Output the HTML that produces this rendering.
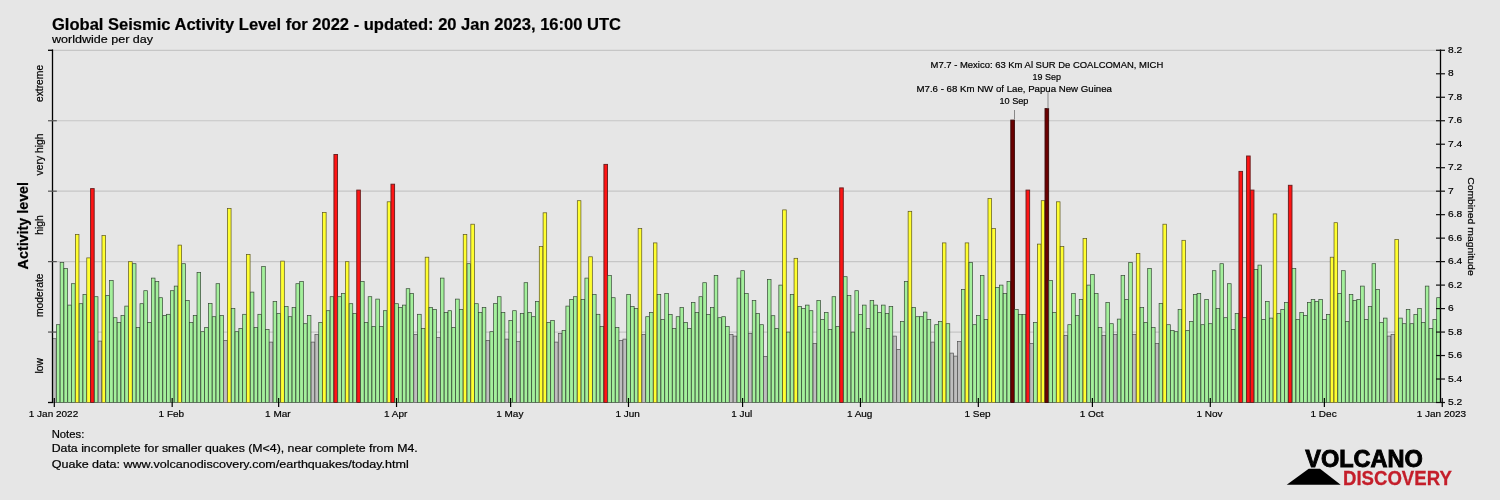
<!DOCTYPE html>
<html><head><meta charset="utf-8"><style>
html,body{margin:0;padding:0;width:1500px;height:500px;overflow:hidden;background:#e6e6e6}
svg text{font-family:"Liberation Sans",sans-serif;stroke:#000;stroke-width:0.2px}
</style></head><body>
<svg width="1500" height="500" viewBox="0 0 1500 500" style="position:absolute;left:0;top:0;will-change:transform">
<rect x="0" y="0" width="1500" height="500" fill="#e6e6e6"/>
<line x1="52.5" x2="1441" y1="50.30" y2="50.30" stroke="#c6c6c6" stroke-width="1.2"/>
<line x1="52.5" x2="1441" y1="120.74" y2="120.74" stroke="#c6c6c6" stroke-width="1.2"/>
<line x1="52.5" x2="1441" y1="191.18" y2="191.18" stroke="#c6c6c6" stroke-width="1.2"/>
<line x1="52.5" x2="1441" y1="261.62" y2="261.62" stroke="#c6c6c6" stroke-width="1.2"/>
<line x1="52.5" x2="1441" y1="332.06" y2="332.06" stroke="#c6c6c6" stroke-width="1.2"/>
<rect x="52.55" y="338.70" width="3.60" height="63.80" fill="#bebebe" stroke="#505050" stroke-width="0.7"/>
<rect x="56.35" y="324.70" width="3.60" height="77.80" fill="#a4f09c" stroke="#354835" stroke-width="0.7"/>
<rect x="60.16" y="262.50" width="3.60" height="140.00" fill="#a4f09c" stroke="#354835" stroke-width="0.7"/>
<rect x="63.96" y="268.50" width="3.60" height="134.00" fill="#a4f09c" stroke="#354835" stroke-width="0.7"/>
<rect x="67.76" y="305.10" width="3.60" height="97.40" fill="#a4f09c" stroke="#354835" stroke-width="0.7"/>
<rect x="71.56" y="283.70" width="3.60" height="118.80" fill="#a4f09c" stroke="#354835" stroke-width="0.7"/>
<rect x="75.37" y="234.40" width="3.60" height="168.10" fill="#ffff30" stroke="#5a5420" stroke-width="0.7"/>
<rect x="79.17" y="303.70" width="3.60" height="98.80" fill="#a4f09c" stroke="#354835" stroke-width="0.7"/>
<rect x="82.97" y="294.50" width="3.60" height="108.00" fill="#a4f09c" stroke="#354835" stroke-width="0.7"/>
<rect x="86.77" y="257.90" width="3.60" height="144.60" fill="#ffff30" stroke="#5a5420" stroke-width="0.7"/>
<rect x="90.58" y="188.60" width="3.60" height="213.90" fill="#ff1414" stroke="#6a2020" stroke-width="0.95"/>
<rect x="94.38" y="296.70" width="3.60" height="105.80" fill="#a4f09c" stroke="#354835" stroke-width="0.7"/>
<rect x="98.18" y="341.10" width="3.60" height="61.40" fill="#bebebe" stroke="#505050" stroke-width="0.7"/>
<rect x="101.98" y="235.50" width="3.60" height="167.00" fill="#ffff30" stroke="#5a5420" stroke-width="0.7"/>
<rect x="105.79" y="295.50" width="3.60" height="107.00" fill="#a4f09c" stroke="#354835" stroke-width="0.7"/>
<rect x="109.59" y="280.50" width="3.60" height="122.00" fill="#a4f09c" stroke="#354835" stroke-width="0.7"/>
<rect x="113.39" y="317.70" width="3.60" height="84.80" fill="#a4f09c" stroke="#354835" stroke-width="0.7"/>
<rect x="117.19" y="322.50" width="3.60" height="80.00" fill="#a4f09c" stroke="#354835" stroke-width="0.7"/>
<rect x="121.00" y="315.50" width="3.60" height="87.00" fill="#a4f09c" stroke="#354835" stroke-width="0.7"/>
<rect x="124.80" y="306.10" width="3.60" height="96.40" fill="#a4f09c" stroke="#354835" stroke-width="0.7"/>
<rect x="128.60" y="261.70" width="3.60" height="140.80" fill="#ffff30" stroke="#5a5420" stroke-width="0.7"/>
<rect x="132.40" y="263.70" width="3.60" height="138.80" fill="#a4f09c" stroke="#354835" stroke-width="0.7"/>
<rect x="136.21" y="327.50" width="3.60" height="75.00" fill="#a4f09c" stroke="#354835" stroke-width="0.7"/>
<rect x="140.01" y="303.70" width="3.60" height="98.80" fill="#a4f09c" stroke="#354835" stroke-width="0.7"/>
<rect x="143.81" y="290.70" width="3.60" height="111.80" fill="#a4f09c" stroke="#354835" stroke-width="0.7"/>
<rect x="147.62" y="322.50" width="3.60" height="80.00" fill="#a4f09c" stroke="#354835" stroke-width="0.7"/>
<rect x="151.42" y="278.10" width="3.60" height="124.40" fill="#a4f09c" stroke="#354835" stroke-width="0.7"/>
<rect x="155.22" y="281.50" width="3.60" height="121.00" fill="#a4f09c" stroke="#354835" stroke-width="0.7"/>
<rect x="159.02" y="297.70" width="3.60" height="104.80" fill="#a4f09c" stroke="#354835" stroke-width="0.7"/>
<rect x="162.83" y="315.50" width="3.60" height="87.00" fill="#a4f09c" stroke="#354835" stroke-width="0.7"/>
<rect x="166.63" y="314.30" width="3.60" height="88.20" fill="#a4f09c" stroke="#354835" stroke-width="0.7"/>
<rect x="170.43" y="290.70" width="3.60" height="111.80" fill="#a4f09c" stroke="#354835" stroke-width="0.7"/>
<rect x="174.23" y="286.10" width="3.60" height="116.40" fill="#a4f09c" stroke="#354835" stroke-width="0.7"/>
<rect x="178.04" y="245.10" width="3.60" height="157.40" fill="#ffff30" stroke="#5a5420" stroke-width="0.7"/>
<rect x="181.84" y="263.70" width="3.60" height="138.80" fill="#a4f09c" stroke="#354835" stroke-width="0.7"/>
<rect x="185.64" y="300.50" width="3.60" height="102.00" fill="#a4f09c" stroke="#354835" stroke-width="0.7"/>
<rect x="189.44" y="322.50" width="3.60" height="80.00" fill="#a4f09c" stroke="#354835" stroke-width="0.7"/>
<rect x="193.25" y="315.50" width="3.60" height="87.00" fill="#a4f09c" stroke="#354835" stroke-width="0.7"/>
<rect x="197.05" y="272.50" width="3.60" height="130.00" fill="#a4f09c" stroke="#354835" stroke-width="0.7"/>
<rect x="200.85" y="331.70" width="3.60" height="70.80" fill="#a4f09c" stroke="#354835" stroke-width="0.7"/>
<rect x="204.65" y="327.50" width="3.60" height="75.00" fill="#a4f09c" stroke="#354835" stroke-width="0.7"/>
<rect x="208.46" y="303.50" width="3.60" height="99.00" fill="#a4f09c" stroke="#354835" stroke-width="0.7"/>
<rect x="212.26" y="316.70" width="3.60" height="85.80" fill="#a4f09c" stroke="#354835" stroke-width="0.7"/>
<rect x="216.06" y="283.70" width="3.60" height="118.80" fill="#a4f09c" stroke="#354835" stroke-width="0.7"/>
<rect x="219.86" y="315.50" width="3.60" height="87.00" fill="#a4f09c" stroke="#354835" stroke-width="0.7"/>
<rect x="223.67" y="340.50" width="3.60" height="62.00" fill="#bebebe" stroke="#505050" stroke-width="0.7"/>
<rect x="227.47" y="208.40" width="3.60" height="194.10" fill="#ffff30" stroke="#5a5420" stroke-width="0.7"/>
<rect x="231.27" y="308.50" width="3.60" height="94.00" fill="#a4f09c" stroke="#354835" stroke-width="0.7"/>
<rect x="235.07" y="331.70" width="3.60" height="70.80" fill="#a4f09c" stroke="#354835" stroke-width="0.7"/>
<rect x="238.88" y="328.50" width="3.60" height="74.00" fill="#a4f09c" stroke="#354835" stroke-width="0.7"/>
<rect x="242.68" y="314.30" width="3.60" height="88.20" fill="#a4f09c" stroke="#354835" stroke-width="0.7"/>
<rect x="246.48" y="254.40" width="3.60" height="148.10" fill="#ffff30" stroke="#5a5420" stroke-width="0.7"/>
<rect x="250.29" y="292.10" width="3.60" height="110.40" fill="#a4f09c" stroke="#354835" stroke-width="0.7"/>
<rect x="254.09" y="327.50" width="3.60" height="75.00" fill="#a4f09c" stroke="#354835" stroke-width="0.7"/>
<rect x="257.89" y="314.30" width="3.60" height="88.20" fill="#a4f09c" stroke="#354835" stroke-width="0.7"/>
<rect x="261.69" y="266.50" width="3.60" height="136.00" fill="#a4f09c" stroke="#354835" stroke-width="0.7"/>
<rect x="265.50" y="329.50" width="3.60" height="73.00" fill="#a4f09c" stroke="#354835" stroke-width="0.7"/>
<rect x="269.30" y="342.10" width="3.60" height="60.40" fill="#bebebe" stroke="#505050" stroke-width="0.7"/>
<rect x="273.10" y="301.50" width="3.60" height="101.00" fill="#a4f09c" stroke="#354835" stroke-width="0.7"/>
<rect x="276.90" y="313.50" width="3.60" height="89.00" fill="#a4f09c" stroke="#354835" stroke-width="0.7"/>
<rect x="280.71" y="261.10" width="3.60" height="141.40" fill="#ffff30" stroke="#5a5420" stroke-width="0.7"/>
<rect x="284.51" y="306.50" width="3.60" height="96.00" fill="#a4f09c" stroke="#354835" stroke-width="0.7"/>
<rect x="288.31" y="316.70" width="3.60" height="85.80" fill="#a4f09c" stroke="#354835" stroke-width="0.7"/>
<rect x="292.11" y="307.50" width="3.60" height="95.00" fill="#a4f09c" stroke="#354835" stroke-width="0.7"/>
<rect x="295.92" y="283.70" width="3.60" height="118.80" fill="#a4f09c" stroke="#354835" stroke-width="0.7"/>
<rect x="299.72" y="281.50" width="3.60" height="121.00" fill="#a4f09c" stroke="#354835" stroke-width="0.7"/>
<rect x="303.52" y="323.70" width="3.60" height="78.80" fill="#a4f09c" stroke="#354835" stroke-width="0.7"/>
<rect x="307.32" y="315.50" width="3.60" height="87.00" fill="#a4f09c" stroke="#354835" stroke-width="0.7"/>
<rect x="311.13" y="342.10" width="3.60" height="60.40" fill="#bebebe" stroke="#505050" stroke-width="0.7"/>
<rect x="314.93" y="334.50" width="3.60" height="68.00" fill="#bebebe" stroke="#505050" stroke-width="0.7"/>
<rect x="318.73" y="322.50" width="3.60" height="80.00" fill="#a4f09c" stroke="#354835" stroke-width="0.7"/>
<rect x="322.53" y="212.40" width="3.60" height="190.10" fill="#ffff30" stroke="#5a5420" stroke-width="0.7"/>
<rect x="326.34" y="310.70" width="3.60" height="91.80" fill="#a4f09c" stroke="#354835" stroke-width="0.7"/>
<rect x="330.14" y="296.70" width="3.60" height="105.80" fill="#a4f09c" stroke="#354835" stroke-width="0.7"/>
<rect x="333.94" y="154.50" width="3.60" height="248.00" fill="#ff1414" stroke="#6a2020" stroke-width="0.95"/>
<rect x="337.75" y="296.70" width="3.60" height="105.80" fill="#a4f09c" stroke="#354835" stroke-width="0.7"/>
<rect x="341.55" y="293.50" width="3.60" height="109.00" fill="#a4f09c" stroke="#354835" stroke-width="0.7"/>
<rect x="345.35" y="261.70" width="3.60" height="140.80" fill="#ffff30" stroke="#5a5420" stroke-width="0.7"/>
<rect x="349.15" y="303.70" width="3.60" height="98.80" fill="#a4f09c" stroke="#354835" stroke-width="0.7"/>
<rect x="352.96" y="313.50" width="3.60" height="89.00" fill="#a4f09c" stroke="#354835" stroke-width="0.7"/>
<rect x="356.76" y="190.10" width="3.60" height="212.40" fill="#ff1414" stroke="#6a2020" stroke-width="0.95"/>
<rect x="360.56" y="281.50" width="3.60" height="121.00" fill="#a4f09c" stroke="#354835" stroke-width="0.7"/>
<rect x="364.36" y="322.50" width="3.60" height="80.00" fill="#a4f09c" stroke="#354835" stroke-width="0.7"/>
<rect x="368.17" y="296.70" width="3.60" height="105.80" fill="#a4f09c" stroke="#354835" stroke-width="0.7"/>
<rect x="371.97" y="326.50" width="3.60" height="76.00" fill="#a4f09c" stroke="#354835" stroke-width="0.7"/>
<rect x="375.77" y="299.10" width="3.60" height="103.40" fill="#a4f09c" stroke="#354835" stroke-width="0.7"/>
<rect x="379.57" y="326.50" width="3.60" height="76.00" fill="#a4f09c" stroke="#354835" stroke-width="0.7"/>
<rect x="383.38" y="310.70" width="3.60" height="91.80" fill="#a4f09c" stroke="#354835" stroke-width="0.7"/>
<rect x="387.18" y="201.80" width="3.60" height="200.70" fill="#ffff30" stroke="#5a5420" stroke-width="0.7"/>
<rect x="390.98" y="184.20" width="3.60" height="218.30" fill="#ff1414" stroke="#6a2020" stroke-width="0.95"/>
<rect x="394.78" y="303.70" width="3.60" height="98.80" fill="#a4f09c" stroke="#354835" stroke-width="0.7"/>
<rect x="398.59" y="307.50" width="3.60" height="95.00" fill="#a4f09c" stroke="#354835" stroke-width="0.7"/>
<rect x="402.39" y="305.10" width="3.60" height="97.40" fill="#a4f09c" stroke="#354835" stroke-width="0.7"/>
<rect x="406.19" y="288.70" width="3.60" height="113.80" fill="#a4f09c" stroke="#354835" stroke-width="0.7"/>
<rect x="409.99" y="293.50" width="3.60" height="109.00" fill="#a4f09c" stroke="#354835" stroke-width="0.7"/>
<rect x="413.80" y="334.50" width="3.60" height="68.00" fill="#bebebe" stroke="#505050" stroke-width="0.7"/>
<rect x="417.60" y="314.30" width="3.60" height="88.20" fill="#a4f09c" stroke="#354835" stroke-width="0.7"/>
<rect x="421.40" y="328.50" width="3.60" height="74.00" fill="#a4f09c" stroke="#354835" stroke-width="0.7"/>
<rect x="425.20" y="257.20" width="3.60" height="145.30" fill="#ffff30" stroke="#5a5420" stroke-width="0.7"/>
<rect x="429.01" y="307.50" width="3.60" height="95.00" fill="#a4f09c" stroke="#354835" stroke-width="0.7"/>
<rect x="432.81" y="309.50" width="3.60" height="93.00" fill="#a4f09c" stroke="#354835" stroke-width="0.7"/>
<rect x="436.61" y="337.50" width="3.60" height="65.00" fill="#bebebe" stroke="#505050" stroke-width="0.7"/>
<rect x="440.42" y="278.10" width="3.60" height="124.40" fill="#a4f09c" stroke="#354835" stroke-width="0.7"/>
<rect x="444.22" y="312.50" width="3.60" height="90.00" fill="#a4f09c" stroke="#354835" stroke-width="0.7"/>
<rect x="448.02" y="310.70" width="3.60" height="91.80" fill="#a4f09c" stroke="#354835" stroke-width="0.7"/>
<rect x="451.82" y="327.50" width="3.60" height="75.00" fill="#a4f09c" stroke="#354835" stroke-width="0.7"/>
<rect x="455.63" y="299.10" width="3.60" height="103.40" fill="#a4f09c" stroke="#354835" stroke-width="0.7"/>
<rect x="459.43" y="309.50" width="3.60" height="93.00" fill="#a4f09c" stroke="#354835" stroke-width="0.7"/>
<rect x="463.23" y="234.40" width="3.60" height="168.10" fill="#ffff30" stroke="#5a5420" stroke-width="0.7"/>
<rect x="467.03" y="263.70" width="3.60" height="138.80" fill="#a4f09c" stroke="#354835" stroke-width="0.7"/>
<rect x="470.84" y="224.20" width="3.60" height="178.30" fill="#ffff30" stroke="#5a5420" stroke-width="0.7"/>
<rect x="474.64" y="303.70" width="3.60" height="98.80" fill="#a4f09c" stroke="#354835" stroke-width="0.7"/>
<rect x="478.44" y="312.50" width="3.60" height="90.00" fill="#a4f09c" stroke="#354835" stroke-width="0.7"/>
<rect x="482.24" y="307.50" width="3.60" height="95.00" fill="#a4f09c" stroke="#354835" stroke-width="0.7"/>
<rect x="486.05" y="340.50" width="3.60" height="62.00" fill="#bebebe" stroke="#505050" stroke-width="0.7"/>
<rect x="489.85" y="331.70" width="3.60" height="70.80" fill="#a4f09c" stroke="#354835" stroke-width="0.7"/>
<rect x="493.65" y="303.50" width="3.60" height="99.00" fill="#a4f09c" stroke="#354835" stroke-width="0.7"/>
<rect x="497.45" y="296.70" width="3.60" height="105.80" fill="#a4f09c" stroke="#354835" stroke-width="0.7"/>
<rect x="501.26" y="312.50" width="3.60" height="90.00" fill="#a4f09c" stroke="#354835" stroke-width="0.7"/>
<rect x="505.06" y="339.10" width="3.60" height="63.40" fill="#bebebe" stroke="#505050" stroke-width="0.7"/>
<rect x="508.86" y="320.50" width="3.60" height="82.00" fill="#a4f09c" stroke="#354835" stroke-width="0.7"/>
<rect x="512.66" y="310.70" width="3.60" height="91.80" fill="#a4f09c" stroke="#354835" stroke-width="0.7"/>
<rect x="516.47" y="341.50" width="3.60" height="61.00" fill="#bebebe" stroke="#505050" stroke-width="0.7"/>
<rect x="520.27" y="313.50" width="3.60" height="89.00" fill="#a4f09c" stroke="#354835" stroke-width="0.7"/>
<rect x="524.07" y="282.70" width="3.60" height="119.80" fill="#a4f09c" stroke="#354835" stroke-width="0.7"/>
<rect x="527.88" y="312.50" width="3.60" height="90.00" fill="#a4f09c" stroke="#354835" stroke-width="0.7"/>
<rect x="531.68" y="316.70" width="3.60" height="85.80" fill="#a4f09c" stroke="#354835" stroke-width="0.7"/>
<rect x="535.48" y="301.50" width="3.60" height="101.00" fill="#a4f09c" stroke="#354835" stroke-width="0.7"/>
<rect x="539.28" y="246.50" width="3.60" height="156.00" fill="#ffff30" stroke="#5a5420" stroke-width="0.7"/>
<rect x="543.09" y="212.80" width="3.60" height="189.70" fill="#ffff30" stroke="#5a5420" stroke-width="0.7"/>
<rect x="546.89" y="322.50" width="3.60" height="80.00" fill="#a4f09c" stroke="#354835" stroke-width="0.7"/>
<rect x="550.69" y="320.50" width="3.60" height="82.00" fill="#a4f09c" stroke="#354835" stroke-width="0.7"/>
<rect x="554.49" y="342.10" width="3.60" height="60.40" fill="#bebebe" stroke="#505050" stroke-width="0.7"/>
<rect x="558.30" y="333.50" width="3.60" height="69.00" fill="#bebebe" stroke="#505050" stroke-width="0.7"/>
<rect x="562.10" y="330.50" width="3.60" height="72.00" fill="#a4f09c" stroke="#354835" stroke-width="0.7"/>
<rect x="565.90" y="306.10" width="3.60" height="96.40" fill="#a4f09c" stroke="#354835" stroke-width="0.7"/>
<rect x="569.70" y="299.50" width="3.60" height="103.00" fill="#a4f09c" stroke="#354835" stroke-width="0.7"/>
<rect x="573.51" y="296.70" width="3.60" height="105.80" fill="#a4f09c" stroke="#354835" stroke-width="0.7"/>
<rect x="577.31" y="200.70" width="3.60" height="201.80" fill="#ffff30" stroke="#5a5420" stroke-width="0.7"/>
<rect x="581.11" y="299.50" width="3.60" height="103.00" fill="#a4f09c" stroke="#354835" stroke-width="0.7"/>
<rect x="584.91" y="278.10" width="3.60" height="124.40" fill="#a4f09c" stroke="#354835" stroke-width="0.7"/>
<rect x="588.72" y="256.80" width="3.60" height="145.70" fill="#ffff30" stroke="#5a5420" stroke-width="0.7"/>
<rect x="592.52" y="294.50" width="3.60" height="108.00" fill="#a4f09c" stroke="#354835" stroke-width="0.7"/>
<rect x="596.32" y="314.30" width="3.60" height="88.20" fill="#a4f09c" stroke="#354835" stroke-width="0.7"/>
<rect x="600.12" y="326.50" width="3.60" height="76.00" fill="#a4f09c" stroke="#354835" stroke-width="0.7"/>
<rect x="603.93" y="164.40" width="3.60" height="238.10" fill="#ff1414" stroke="#6a2020" stroke-width="0.95"/>
<rect x="607.73" y="275.50" width="3.60" height="127.00" fill="#a4f09c" stroke="#354835" stroke-width="0.7"/>
<rect x="611.53" y="297.70" width="3.60" height="104.80" fill="#a4f09c" stroke="#354835" stroke-width="0.7"/>
<rect x="615.33" y="327.50" width="3.60" height="75.00" fill="#a4f09c" stroke="#354835" stroke-width="0.7"/>
<rect x="619.14" y="340.50" width="3.60" height="62.00" fill="#bebebe" stroke="#505050" stroke-width="0.7"/>
<rect x="622.94" y="339.10" width="3.60" height="63.40" fill="#bebebe" stroke="#505050" stroke-width="0.7"/>
<rect x="626.74" y="294.50" width="3.60" height="108.00" fill="#a4f09c" stroke="#354835" stroke-width="0.7"/>
<rect x="630.55" y="306.50" width="3.60" height="96.00" fill="#a4f09c" stroke="#354835" stroke-width="0.7"/>
<rect x="634.35" y="308.50" width="3.60" height="94.00" fill="#a4f09c" stroke="#354835" stroke-width="0.7"/>
<rect x="638.15" y="228.60" width="3.60" height="173.90" fill="#ffff30" stroke="#5a5420" stroke-width="0.7"/>
<rect x="641.95" y="334.50" width="3.60" height="68.00" fill="#bebebe" stroke="#505050" stroke-width="0.7"/>
<rect x="645.76" y="316.70" width="3.60" height="85.80" fill="#a4f09c" stroke="#354835" stroke-width="0.7"/>
<rect x="649.56" y="312.50" width="3.60" height="90.00" fill="#a4f09c" stroke="#354835" stroke-width="0.7"/>
<rect x="653.36" y="242.90" width="3.60" height="159.60" fill="#ffff30" stroke="#5a5420" stroke-width="0.7"/>
<rect x="657.16" y="294.50" width="3.60" height="108.00" fill="#a4f09c" stroke="#354835" stroke-width="0.7"/>
<rect x="660.97" y="319.50" width="3.60" height="83.00" fill="#a4f09c" stroke="#354835" stroke-width="0.7"/>
<rect x="664.77" y="293.50" width="3.60" height="109.00" fill="#a4f09c" stroke="#354835" stroke-width="0.7"/>
<rect x="668.57" y="314.50" width="3.60" height="88.00" fill="#a4f09c" stroke="#354835" stroke-width="0.7"/>
<rect x="672.37" y="328.50" width="3.60" height="74.00" fill="#a4f09c" stroke="#354835" stroke-width="0.7"/>
<rect x="676.18" y="316.70" width="3.60" height="85.80" fill="#a4f09c" stroke="#354835" stroke-width="0.7"/>
<rect x="679.98" y="307.50" width="3.60" height="95.00" fill="#a4f09c" stroke="#354835" stroke-width="0.7"/>
<rect x="683.78" y="322.50" width="3.60" height="80.00" fill="#a4f09c" stroke="#354835" stroke-width="0.7"/>
<rect x="687.58" y="328.50" width="3.60" height="74.00" fill="#a4f09c" stroke="#354835" stroke-width="0.7"/>
<rect x="691.39" y="302.50" width="3.60" height="100.00" fill="#a4f09c" stroke="#354835" stroke-width="0.7"/>
<rect x="695.19" y="312.50" width="3.60" height="90.00" fill="#a4f09c" stroke="#354835" stroke-width="0.7"/>
<rect x="698.99" y="296.70" width="3.60" height="105.80" fill="#a4f09c" stroke="#354835" stroke-width="0.7"/>
<rect x="702.79" y="282.70" width="3.60" height="119.80" fill="#a4f09c" stroke="#354835" stroke-width="0.7"/>
<rect x="706.60" y="314.50" width="3.60" height="88.00" fill="#a4f09c" stroke="#354835" stroke-width="0.7"/>
<rect x="710.40" y="307.50" width="3.60" height="95.00" fill="#a4f09c" stroke="#354835" stroke-width="0.7"/>
<rect x="714.20" y="275.50" width="3.60" height="127.00" fill="#a4f09c" stroke="#354835" stroke-width="0.7"/>
<rect x="718.00" y="317.70" width="3.60" height="84.80" fill="#a4f09c" stroke="#354835" stroke-width="0.7"/>
<rect x="721.81" y="316.70" width="3.60" height="85.80" fill="#a4f09c" stroke="#354835" stroke-width="0.7"/>
<rect x="725.61" y="326.50" width="3.60" height="76.00" fill="#a4f09c" stroke="#354835" stroke-width="0.7"/>
<rect x="729.41" y="334.50" width="3.60" height="68.00" fill="#bebebe" stroke="#505050" stroke-width="0.7"/>
<rect x="733.22" y="336.10" width="3.60" height="66.40" fill="#bebebe" stroke="#505050" stroke-width="0.7"/>
<rect x="737.02" y="278.10" width="3.60" height="124.40" fill="#a4f09c" stroke="#354835" stroke-width="0.7"/>
<rect x="740.82" y="270.70" width="3.60" height="131.80" fill="#a4f09c" stroke="#354835" stroke-width="0.7"/>
<rect x="744.62" y="293.50" width="3.60" height="109.00" fill="#a4f09c" stroke="#354835" stroke-width="0.7"/>
<rect x="748.43" y="333.50" width="3.60" height="69.00" fill="#bebebe" stroke="#505050" stroke-width="0.7"/>
<rect x="752.23" y="300.50" width="3.60" height="102.00" fill="#a4f09c" stroke="#354835" stroke-width="0.7"/>
<rect x="756.03" y="313.50" width="3.60" height="89.00" fill="#a4f09c" stroke="#354835" stroke-width="0.7"/>
<rect x="759.83" y="324.70" width="3.60" height="77.80" fill="#a4f09c" stroke="#354835" stroke-width="0.7"/>
<rect x="763.64" y="356.50" width="3.60" height="46.00" fill="#bebebe" stroke="#505050" stroke-width="0.7"/>
<rect x="767.44" y="279.50" width="3.60" height="123.00" fill="#a4f09c" stroke="#354835" stroke-width="0.7"/>
<rect x="771.24" y="315.70" width="3.60" height="86.80" fill="#a4f09c" stroke="#354835" stroke-width="0.7"/>
<rect x="775.04" y="328.50" width="3.60" height="74.00" fill="#a4f09c" stroke="#354835" stroke-width="0.7"/>
<rect x="778.85" y="285.10" width="3.60" height="117.40" fill="#a4f09c" stroke="#354835" stroke-width="0.7"/>
<rect x="782.65" y="209.90" width="3.60" height="192.60" fill="#ffff30" stroke="#5a5420" stroke-width="0.7"/>
<rect x="786.45" y="332.10" width="3.60" height="70.40" fill="#a4f09c" stroke="#354835" stroke-width="0.7"/>
<rect x="790.25" y="294.50" width="3.60" height="108.00" fill="#a4f09c" stroke="#354835" stroke-width="0.7"/>
<rect x="794.06" y="258.30" width="3.60" height="144.20" fill="#ffff30" stroke="#5a5420" stroke-width="0.7"/>
<rect x="797.86" y="306.50" width="3.60" height="96.00" fill="#a4f09c" stroke="#354835" stroke-width="0.7"/>
<rect x="801.66" y="308.50" width="3.60" height="94.00" fill="#a4f09c" stroke="#354835" stroke-width="0.7"/>
<rect x="805.46" y="305.10" width="3.60" height="97.40" fill="#a4f09c" stroke="#354835" stroke-width="0.7"/>
<rect x="809.27" y="310.70" width="3.60" height="91.80" fill="#a4f09c" stroke="#354835" stroke-width="0.7"/>
<rect x="813.07" y="343.50" width="3.60" height="59.00" fill="#bebebe" stroke="#505050" stroke-width="0.7"/>
<rect x="816.87" y="300.50" width="3.60" height="102.00" fill="#a4f09c" stroke="#354835" stroke-width="0.7"/>
<rect x="820.68" y="319.50" width="3.60" height="83.00" fill="#a4f09c" stroke="#354835" stroke-width="0.7"/>
<rect x="824.48" y="312.50" width="3.60" height="90.00" fill="#a4f09c" stroke="#354835" stroke-width="0.7"/>
<rect x="828.28" y="329.50" width="3.60" height="73.00" fill="#a4f09c" stroke="#354835" stroke-width="0.7"/>
<rect x="832.08" y="296.70" width="3.60" height="105.80" fill="#a4f09c" stroke="#354835" stroke-width="0.7"/>
<rect x="835.89" y="326.50" width="3.60" height="76.00" fill="#a4f09c" stroke="#354835" stroke-width="0.7"/>
<rect x="839.69" y="187.90" width="3.60" height="214.60" fill="#ff1414" stroke="#6a2020" stroke-width="0.95"/>
<rect x="843.49" y="276.70" width="3.60" height="125.80" fill="#a4f09c" stroke="#354835" stroke-width="0.7"/>
<rect x="847.29" y="295.50" width="3.60" height="107.00" fill="#a4f09c" stroke="#354835" stroke-width="0.7"/>
<rect x="851.10" y="332.10" width="3.60" height="70.40" fill="#a4f09c" stroke="#354835" stroke-width="0.7"/>
<rect x="854.90" y="290.70" width="3.60" height="111.80" fill="#a4f09c" stroke="#354835" stroke-width="0.7"/>
<rect x="858.70" y="314.50" width="3.60" height="88.00" fill="#a4f09c" stroke="#354835" stroke-width="0.7"/>
<rect x="862.50" y="305.10" width="3.60" height="97.40" fill="#a4f09c" stroke="#354835" stroke-width="0.7"/>
<rect x="866.31" y="328.50" width="3.60" height="74.00" fill="#a4f09c" stroke="#354835" stroke-width="0.7"/>
<rect x="870.11" y="300.50" width="3.60" height="102.00" fill="#a4f09c" stroke="#354835" stroke-width="0.7"/>
<rect x="873.91" y="305.10" width="3.60" height="97.40" fill="#a4f09c" stroke="#354835" stroke-width="0.7"/>
<rect x="877.71" y="312.50" width="3.60" height="90.00" fill="#a4f09c" stroke="#354835" stroke-width="0.7"/>
<rect x="881.52" y="305.10" width="3.60" height="97.40" fill="#a4f09c" stroke="#354835" stroke-width="0.7"/>
<rect x="885.32" y="313.50" width="3.60" height="89.00" fill="#a4f09c" stroke="#354835" stroke-width="0.7"/>
<rect x="889.12" y="306.50" width="3.60" height="96.00" fill="#a4f09c" stroke="#354835" stroke-width="0.7"/>
<rect x="892.92" y="336.10" width="3.60" height="66.40" fill="#bebebe" stroke="#505050" stroke-width="0.7"/>
<rect x="896.73" y="349.50" width="3.60" height="53.00" fill="#bebebe" stroke="#505050" stroke-width="0.7"/>
<rect x="900.53" y="321.50" width="3.60" height="81.00" fill="#a4f09c" stroke="#354835" stroke-width="0.7"/>
<rect x="904.33" y="281.50" width="3.60" height="121.00" fill="#a4f09c" stroke="#354835" stroke-width="0.7"/>
<rect x="908.13" y="211.30" width="3.60" height="191.20" fill="#ffff30" stroke="#5a5420" stroke-width="0.7"/>
<rect x="911.94" y="307.50" width="3.60" height="95.00" fill="#a4f09c" stroke="#354835" stroke-width="0.7"/>
<rect x="915.74" y="316.70" width="3.60" height="85.80" fill="#a4f09c" stroke="#354835" stroke-width="0.7"/>
<rect x="919.54" y="316.70" width="3.60" height="85.80" fill="#a4f09c" stroke="#354835" stroke-width="0.7"/>
<rect x="923.35" y="312.10" width="3.60" height="90.40" fill="#a4f09c" stroke="#354835" stroke-width="0.7"/>
<rect x="927.15" y="319.50" width="3.60" height="83.00" fill="#a4f09c" stroke="#354835" stroke-width="0.7"/>
<rect x="930.95" y="342.10" width="3.60" height="60.40" fill="#bebebe" stroke="#505050" stroke-width="0.7"/>
<rect x="934.75" y="324.70" width="3.60" height="77.80" fill="#a4f09c" stroke="#354835" stroke-width="0.7"/>
<rect x="938.56" y="321.50" width="3.60" height="81.00" fill="#a4f09c" stroke="#354835" stroke-width="0.7"/>
<rect x="942.36" y="242.90" width="3.60" height="159.60" fill="#ffff30" stroke="#5a5420" stroke-width="0.7"/>
<rect x="946.16" y="323.70" width="3.60" height="78.80" fill="#a4f09c" stroke="#354835" stroke-width="0.7"/>
<rect x="949.96" y="353.10" width="3.60" height="49.40" fill="#bebebe" stroke="#505050" stroke-width="0.7"/>
<rect x="953.77" y="356.10" width="3.60" height="46.40" fill="#bebebe" stroke="#505050" stroke-width="0.7"/>
<rect x="957.57" y="341.50" width="3.60" height="61.00" fill="#bebebe" stroke="#505050" stroke-width="0.7"/>
<rect x="961.37" y="289.50" width="3.60" height="113.00" fill="#a4f09c" stroke="#354835" stroke-width="0.7"/>
<rect x="965.17" y="242.90" width="3.60" height="159.60" fill="#ffff30" stroke="#5a5420" stroke-width="0.7"/>
<rect x="968.98" y="262.50" width="3.60" height="140.00" fill="#a4f09c" stroke="#354835" stroke-width="0.7"/>
<rect x="972.78" y="324.70" width="3.60" height="77.80" fill="#a4f09c" stroke="#354835" stroke-width="0.7"/>
<rect x="976.58" y="315.50" width="3.60" height="87.00" fill="#a4f09c" stroke="#354835" stroke-width="0.7"/>
<rect x="980.38" y="275.50" width="3.60" height="127.00" fill="#a4f09c" stroke="#354835" stroke-width="0.7"/>
<rect x="984.19" y="319.50" width="3.60" height="83.00" fill="#a4f09c" stroke="#354835" stroke-width="0.7"/>
<rect x="987.99" y="198.50" width="3.60" height="204.00" fill="#ffff30" stroke="#5a5420" stroke-width="0.7"/>
<rect x="991.79" y="228.60" width="3.60" height="173.90" fill="#ffff30" stroke="#5a5420" stroke-width="0.7"/>
<rect x="995.59" y="287.50" width="3.60" height="115.00" fill="#a4f09c" stroke="#354835" stroke-width="0.7"/>
<rect x="999.40" y="285.10" width="3.60" height="117.40" fill="#a4f09c" stroke="#354835" stroke-width="0.7"/>
<rect x="1003.20" y="293.50" width="3.60" height="109.00" fill="#a4f09c" stroke="#354835" stroke-width="0.7"/>
<rect x="1007.00" y="281.50" width="3.60" height="121.00" fill="#a4f09c" stroke="#354835" stroke-width="0.7"/>
<rect x="1010.81" y="120.10" width="3.60" height="282.40" fill="#6a0000" stroke="#3a0a0a" stroke-width="0.95"/>
<rect x="1014.61" y="309.50" width="3.60" height="93.00" fill="#a4f09c" stroke="#354835" stroke-width="0.7"/>
<rect x="1018.41" y="314.50" width="3.60" height="88.00" fill="#a4f09c" stroke="#354835" stroke-width="0.7"/>
<rect x="1022.21" y="314.50" width="3.60" height="88.00" fill="#a4f09c" stroke="#354835" stroke-width="0.7"/>
<rect x="1026.02" y="190.10" width="3.60" height="212.40" fill="#ff1414" stroke="#6a2020" stroke-width="0.95"/>
<rect x="1029.82" y="343.50" width="3.60" height="59.00" fill="#bebebe" stroke="#505050" stroke-width="0.7"/>
<rect x="1033.62" y="322.50" width="3.60" height="80.00" fill="#a4f09c" stroke="#354835" stroke-width="0.7"/>
<rect x="1037.42" y="244.10" width="3.60" height="158.40" fill="#ffff30" stroke="#5a5420" stroke-width="0.7"/>
<rect x="1041.23" y="200.70" width="3.60" height="201.80" fill="#ffff30" stroke="#5a5420" stroke-width="0.7"/>
<rect x="1045.03" y="108.60" width="3.60" height="293.90" fill="#6a0000" stroke="#3a0a0a" stroke-width="0.95"/>
<rect x="1048.83" y="280.50" width="3.60" height="122.00" fill="#a4f09c" stroke="#354835" stroke-width="0.7"/>
<rect x="1052.63" y="312.50" width="3.60" height="90.00" fill="#a4f09c" stroke="#354835" stroke-width="0.7"/>
<rect x="1056.44" y="201.80" width="3.60" height="200.70" fill="#ffff30" stroke="#5a5420" stroke-width="0.7"/>
<rect x="1060.24" y="246.50" width="3.60" height="156.00" fill="#ffff30" stroke="#5a5420" stroke-width="0.7"/>
<rect x="1064.04" y="335.50" width="3.60" height="67.00" fill="#bebebe" stroke="#505050" stroke-width="0.7"/>
<rect x="1067.84" y="324.70" width="3.60" height="77.80" fill="#a4f09c" stroke="#354835" stroke-width="0.7"/>
<rect x="1071.65" y="293.50" width="3.60" height="109.00" fill="#a4f09c" stroke="#354835" stroke-width="0.7"/>
<rect x="1075.45" y="315.50" width="3.60" height="87.00" fill="#a4f09c" stroke="#354835" stroke-width="0.7"/>
<rect x="1079.25" y="299.50" width="3.60" height="103.00" fill="#a4f09c" stroke="#354835" stroke-width="0.7"/>
<rect x="1083.05" y="238.50" width="3.60" height="164.00" fill="#ffff30" stroke="#5a5420" stroke-width="0.7"/>
<rect x="1086.86" y="285.10" width="3.60" height="117.40" fill="#a4f09c" stroke="#354835" stroke-width="0.7"/>
<rect x="1090.66" y="274.50" width="3.60" height="128.00" fill="#a4f09c" stroke="#354835" stroke-width="0.7"/>
<rect x="1094.46" y="293.50" width="3.60" height="109.00" fill="#a4f09c" stroke="#354835" stroke-width="0.7"/>
<rect x="1098.26" y="327.50" width="3.60" height="75.00" fill="#a4f09c" stroke="#354835" stroke-width="0.7"/>
<rect x="1102.07" y="335.50" width="3.60" height="67.00" fill="#bebebe" stroke="#505050" stroke-width="0.7"/>
<rect x="1105.87" y="302.50" width="3.60" height="100.00" fill="#a4f09c" stroke="#354835" stroke-width="0.7"/>
<rect x="1109.67" y="323.70" width="3.60" height="78.80" fill="#a4f09c" stroke="#354835" stroke-width="0.7"/>
<rect x="1113.48" y="334.50" width="3.60" height="68.00" fill="#bebebe" stroke="#505050" stroke-width="0.7"/>
<rect x="1117.28" y="319.10" width="3.60" height="83.40" fill="#a4f09c" stroke="#354835" stroke-width="0.7"/>
<rect x="1121.08" y="275.50" width="3.60" height="127.00" fill="#a4f09c" stroke="#354835" stroke-width="0.7"/>
<rect x="1124.88" y="299.50" width="3.60" height="103.00" fill="#a4f09c" stroke="#354835" stroke-width="0.7"/>
<rect x="1128.69" y="262.50" width="3.60" height="140.00" fill="#a4f09c" stroke="#354835" stroke-width="0.7"/>
<rect x="1132.49" y="334.50" width="3.60" height="68.00" fill="#bebebe" stroke="#505050" stroke-width="0.7"/>
<rect x="1136.29" y="253.50" width="3.60" height="149.00" fill="#ffff30" stroke="#5a5420" stroke-width="0.7"/>
<rect x="1140.09" y="307.50" width="3.60" height="95.00" fill="#a4f09c" stroke="#354835" stroke-width="0.7"/>
<rect x="1143.90" y="322.50" width="3.60" height="80.00" fill="#a4f09c" stroke="#354835" stroke-width="0.7"/>
<rect x="1147.70" y="268.50" width="3.60" height="134.00" fill="#a4f09c" stroke="#354835" stroke-width="0.7"/>
<rect x="1151.50" y="327.50" width="3.60" height="75.00" fill="#a4f09c" stroke="#354835" stroke-width="0.7"/>
<rect x="1155.30" y="343.50" width="3.60" height="59.00" fill="#bebebe" stroke="#505050" stroke-width="0.7"/>
<rect x="1159.11" y="303.50" width="3.60" height="99.00" fill="#a4f09c" stroke="#354835" stroke-width="0.7"/>
<rect x="1162.91" y="224.20" width="3.60" height="178.30" fill="#ffff30" stroke="#5a5420" stroke-width="0.7"/>
<rect x="1166.71" y="324.70" width="3.60" height="77.80" fill="#a4f09c" stroke="#354835" stroke-width="0.7"/>
<rect x="1170.51" y="330.50" width="3.60" height="72.00" fill="#a4f09c" stroke="#354835" stroke-width="0.7"/>
<rect x="1174.32" y="331.70" width="3.60" height="70.80" fill="#a4f09c" stroke="#354835" stroke-width="0.7"/>
<rect x="1178.12" y="309.50" width="3.60" height="93.00" fill="#a4f09c" stroke="#354835" stroke-width="0.7"/>
<rect x="1181.92" y="240.30" width="3.60" height="162.20" fill="#ffff30" stroke="#5a5420" stroke-width="0.7"/>
<rect x="1185.72" y="330.50" width="3.60" height="72.00" fill="#a4f09c" stroke="#354835" stroke-width="0.7"/>
<rect x="1189.53" y="321.50" width="3.60" height="81.00" fill="#a4f09c" stroke="#354835" stroke-width="0.7"/>
<rect x="1193.33" y="294.50" width="3.60" height="108.00" fill="#a4f09c" stroke="#354835" stroke-width="0.7"/>
<rect x="1197.13" y="293.50" width="3.60" height="109.00" fill="#a4f09c" stroke="#354835" stroke-width="0.7"/>
<rect x="1200.94" y="324.70" width="3.60" height="77.80" fill="#a4f09c" stroke="#354835" stroke-width="0.7"/>
<rect x="1204.74" y="299.50" width="3.60" height="103.00" fill="#a4f09c" stroke="#354835" stroke-width="0.7"/>
<rect x="1208.54" y="323.70" width="3.60" height="78.80" fill="#a4f09c" stroke="#354835" stroke-width="0.7"/>
<rect x="1212.34" y="270.70" width="3.60" height="131.80" fill="#a4f09c" stroke="#354835" stroke-width="0.7"/>
<rect x="1216.15" y="308.50" width="3.60" height="94.00" fill="#a4f09c" stroke="#354835" stroke-width="0.7"/>
<rect x="1219.95" y="263.70" width="3.60" height="138.80" fill="#a4f09c" stroke="#354835" stroke-width="0.7"/>
<rect x="1223.75" y="317.70" width="3.60" height="84.80" fill="#a4f09c" stroke="#354835" stroke-width="0.7"/>
<rect x="1227.55" y="283.70" width="3.60" height="118.80" fill="#a4f09c" stroke="#354835" stroke-width="0.7"/>
<rect x="1231.36" y="329.50" width="3.60" height="73.00" fill="#a4f09c" stroke="#354835" stroke-width="0.7"/>
<rect x="1235.16" y="313.50" width="3.60" height="89.00" fill="#a4f09c" stroke="#354835" stroke-width="0.7"/>
<rect x="1238.96" y="171.40" width="3.60" height="231.10" fill="#ff1414" stroke="#6a2020" stroke-width="0.95"/>
<rect x="1242.76" y="317.70" width="3.60" height="84.80" fill="#a4f09c" stroke="#354835" stroke-width="0.7"/>
<rect x="1246.57" y="156.00" width="3.60" height="246.50" fill="#ff1414" stroke="#6a2020" stroke-width="0.95"/>
<rect x="1250.37" y="190.10" width="3.60" height="212.40" fill="#ff1414" stroke="#6a2020" stroke-width="0.95"/>
<rect x="1254.17" y="269.50" width="3.60" height="133.00" fill="#a4f09c" stroke="#354835" stroke-width="0.7"/>
<rect x="1257.97" y="265.10" width="3.60" height="137.40" fill="#a4f09c" stroke="#354835" stroke-width="0.7"/>
<rect x="1261.78" y="319.50" width="3.60" height="83.00" fill="#a4f09c" stroke="#354835" stroke-width="0.7"/>
<rect x="1265.58" y="301.50" width="3.60" height="101.00" fill="#a4f09c" stroke="#354835" stroke-width="0.7"/>
<rect x="1269.38" y="318.10" width="3.60" height="84.40" fill="#a4f09c" stroke="#354835" stroke-width="0.7"/>
<rect x="1273.18" y="213.90" width="3.60" height="188.60" fill="#ffff30" stroke="#5a5420" stroke-width="0.7"/>
<rect x="1276.99" y="313.50" width="3.60" height="89.00" fill="#a4f09c" stroke="#354835" stroke-width="0.7"/>
<rect x="1280.79" y="309.50" width="3.60" height="93.00" fill="#a4f09c" stroke="#354835" stroke-width="0.7"/>
<rect x="1284.59" y="302.50" width="3.60" height="100.00" fill="#a4f09c" stroke="#354835" stroke-width="0.7"/>
<rect x="1288.39" y="185.30" width="3.60" height="217.20" fill="#ff1414" stroke="#6a2020" stroke-width="0.95"/>
<rect x="1292.20" y="268.50" width="3.60" height="134.00" fill="#a4f09c" stroke="#354835" stroke-width="0.7"/>
<rect x="1296.00" y="319.50" width="3.60" height="83.00" fill="#a4f09c" stroke="#354835" stroke-width="0.7"/>
<rect x="1299.80" y="312.50" width="3.60" height="90.00" fill="#a4f09c" stroke="#354835" stroke-width="0.7"/>
<rect x="1303.61" y="315.50" width="3.60" height="87.00" fill="#a4f09c" stroke="#354835" stroke-width="0.7"/>
<rect x="1307.41" y="302.50" width="3.60" height="100.00" fill="#a4f09c" stroke="#354835" stroke-width="0.7"/>
<rect x="1311.21" y="299.50" width="3.60" height="103.00" fill="#a4f09c" stroke="#354835" stroke-width="0.7"/>
<rect x="1315.01" y="301.50" width="3.60" height="101.00" fill="#a4f09c" stroke="#354835" stroke-width="0.7"/>
<rect x="1318.82" y="299.50" width="3.60" height="103.00" fill="#a4f09c" stroke="#354835" stroke-width="0.7"/>
<rect x="1322.62" y="319.50" width="3.60" height="83.00" fill="#a4f09c" stroke="#354835" stroke-width="0.7"/>
<rect x="1326.42" y="314.50" width="3.60" height="88.00" fill="#a4f09c" stroke="#354835" stroke-width="0.7"/>
<rect x="1330.22" y="257.20" width="3.60" height="145.30" fill="#ffff30" stroke="#5a5420" stroke-width="0.7"/>
<rect x="1334.03" y="222.70" width="3.60" height="179.80" fill="#ffff30" stroke="#5a5420" stroke-width="0.7"/>
<rect x="1337.83" y="293.50" width="3.60" height="109.00" fill="#a4f09c" stroke="#354835" stroke-width="0.7"/>
<rect x="1341.63" y="270.70" width="3.60" height="131.80" fill="#a4f09c" stroke="#354835" stroke-width="0.7"/>
<rect x="1345.43" y="321.50" width="3.60" height="81.00" fill="#a4f09c" stroke="#354835" stroke-width="0.7"/>
<rect x="1349.24" y="294.50" width="3.60" height="108.00" fill="#a4f09c" stroke="#354835" stroke-width="0.7"/>
<rect x="1353.04" y="300.50" width="3.60" height="102.00" fill="#a4f09c" stroke="#354835" stroke-width="0.7"/>
<rect x="1356.84" y="299.50" width="3.60" height="103.00" fill="#a4f09c" stroke="#354835" stroke-width="0.7"/>
<rect x="1360.64" y="286.10" width="3.60" height="116.40" fill="#a4f09c" stroke="#354835" stroke-width="0.7"/>
<rect x="1364.45" y="319.50" width="3.60" height="83.00" fill="#a4f09c" stroke="#354835" stroke-width="0.7"/>
<rect x="1368.25" y="306.50" width="3.60" height="96.00" fill="#a4f09c" stroke="#354835" stroke-width="0.7"/>
<rect x="1372.05" y="263.70" width="3.60" height="138.80" fill="#a4f09c" stroke="#354835" stroke-width="0.7"/>
<rect x="1375.85" y="289.50" width="3.60" height="113.00" fill="#a4f09c" stroke="#354835" stroke-width="0.7"/>
<rect x="1379.66" y="322.50" width="3.60" height="80.00" fill="#a4f09c" stroke="#354835" stroke-width="0.7"/>
<rect x="1383.46" y="318.10" width="3.60" height="84.40" fill="#a4f09c" stroke="#354835" stroke-width="0.7"/>
<rect x="1387.26" y="336.10" width="3.60" height="66.40" fill="#bebebe" stroke="#505050" stroke-width="0.7"/>
<rect x="1391.07" y="334.50" width="3.60" height="68.00" fill="#bebebe" stroke="#505050" stroke-width="0.7"/>
<rect x="1394.87" y="239.60" width="3.60" height="162.90" fill="#ffff30" stroke="#5a5420" stroke-width="0.7"/>
<rect x="1398.67" y="318.10" width="3.60" height="84.40" fill="#a4f09c" stroke="#354835" stroke-width="0.7"/>
<rect x="1402.47" y="323.70" width="3.60" height="78.80" fill="#a4f09c" stroke="#354835" stroke-width="0.7"/>
<rect x="1406.28" y="309.50" width="3.60" height="93.00" fill="#a4f09c" stroke="#354835" stroke-width="0.7"/>
<rect x="1410.08" y="323.70" width="3.60" height="78.80" fill="#a4f09c" stroke="#354835" stroke-width="0.7"/>
<rect x="1413.88" y="314.50" width="3.60" height="88.00" fill="#a4f09c" stroke="#354835" stroke-width="0.7"/>
<rect x="1417.68" y="308.50" width="3.60" height="94.00" fill="#a4f09c" stroke="#354835" stroke-width="0.7"/>
<rect x="1421.49" y="322.50" width="3.60" height="80.00" fill="#a4f09c" stroke="#354835" stroke-width="0.7"/>
<rect x="1425.29" y="286.10" width="3.60" height="116.40" fill="#a4f09c" stroke="#354835" stroke-width="0.7"/>
<rect x="1429.09" y="328.50" width="3.60" height="74.00" fill="#a4f09c" stroke="#354835" stroke-width="0.7"/>
<rect x="1432.89" y="319.50" width="3.60" height="83.00" fill="#a4f09c" stroke="#354835" stroke-width="0.7"/>
<rect x="1436.70" y="297.70" width="3.60" height="104.80" fill="#a4f09c" stroke="#354835" stroke-width="0.7"/>
<line x1="52.5" x2="52.5" y1="49.5" y2="402.5" stroke="#000" stroke-width="1.3"/>
<line x1="48" x2="56.8" y1="120.74" y2="120.74" stroke="#555" stroke-width="1.2"/>
<line x1="48" x2="56.8" y1="191.18" y2="191.18" stroke="#555" stroke-width="1.2"/>
<line x1="48" x2="56.8" y1="261.62" y2="261.62" stroke="#555" stroke-width="1.2"/>
<line x1="48" x2="56.8" y1="332.06" y2="332.06" stroke="#555" stroke-width="1.2"/>
<line x1="48" x2="53" y1="50.3" y2="50.3" stroke="#000" stroke-width="1.3"/>
<line x1="48" x2="53" y1="402.5" y2="402.5" stroke="#000" stroke-width="1.3"/>
<line x1="1440.5" x2="1440.5" y1="49.5" y2="402.5" stroke="#000" stroke-width="1.3"/>
<line x1="1436" x2="1445" y1="402.50" y2="402.50" stroke="#111" stroke-width="1.2"/>
<text transform="translate(1448,405.10) scale(1.04,1)" font-size="9.8" fill="#000">5.2</text>
<line x1="1436" x2="1445" y1="379.02" y2="379.02" stroke="#111" stroke-width="1.2"/>
<text transform="translate(1448,381.62) scale(1.04,1)" font-size="9.8" fill="#000">5.4</text>
<line x1="1436" x2="1445" y1="355.54" y2="355.54" stroke="#111" stroke-width="1.2"/>
<text transform="translate(1448,358.14) scale(1.04,1)" font-size="9.8" fill="#000">5.6</text>
<line x1="1436" x2="1445" y1="332.06" y2="332.06" stroke="#111" stroke-width="1.2"/>
<text transform="translate(1448,334.66) scale(1.04,1)" font-size="9.8" fill="#000">5.8</text>
<line x1="1436" x2="1445" y1="308.58" y2="308.58" stroke="#111" stroke-width="1.2"/>
<text transform="translate(1448,311.18) scale(1.04,1)" font-size="9.8" fill="#000">6</text>
<line x1="1436" x2="1445" y1="285.10" y2="285.10" stroke="#111" stroke-width="1.2"/>
<text transform="translate(1448,287.70) scale(1.04,1)" font-size="9.8" fill="#000">6.2</text>
<line x1="1436" x2="1445" y1="261.62" y2="261.62" stroke="#111" stroke-width="1.2"/>
<text transform="translate(1448,264.22) scale(1.04,1)" font-size="9.8" fill="#000">6.4</text>
<line x1="1436" x2="1445" y1="238.14" y2="238.14" stroke="#111" stroke-width="1.2"/>
<text transform="translate(1448,240.74) scale(1.04,1)" font-size="9.8" fill="#000">6.6</text>
<line x1="1436" x2="1445" y1="214.66" y2="214.66" stroke="#111" stroke-width="1.2"/>
<text transform="translate(1448,217.26) scale(1.04,1)" font-size="9.8" fill="#000">6.8</text>
<line x1="1436" x2="1445" y1="191.18" y2="191.18" stroke="#111" stroke-width="1.2"/>
<text transform="translate(1448,193.78) scale(1.04,1)" font-size="9.8" fill="#000">7</text>
<line x1="1436" x2="1445" y1="167.70" y2="167.70" stroke="#111" stroke-width="1.2"/>
<text transform="translate(1448,170.30) scale(1.04,1)" font-size="9.8" fill="#000">7.2</text>
<line x1="1436" x2="1445" y1="144.22" y2="144.22" stroke="#111" stroke-width="1.2"/>
<text transform="translate(1448,146.82) scale(1.04,1)" font-size="9.8" fill="#000">7.4</text>
<line x1="1436" x2="1445" y1="120.74" y2="120.74" stroke="#111" stroke-width="1.2"/>
<text transform="translate(1448,123.34) scale(1.04,1)" font-size="9.8" fill="#000">7.6</text>
<line x1="1436" x2="1445" y1="97.26" y2="97.26" stroke="#111" stroke-width="1.2"/>
<text transform="translate(1448,99.86) scale(1.04,1)" font-size="9.8" fill="#000">7.8</text>
<line x1="1436" x2="1445" y1="73.78" y2="73.78" stroke="#111" stroke-width="1.2"/>
<text transform="translate(1448,76.38) scale(1.04,1)" font-size="9.8" fill="#000">8</text>
<line x1="1436" x2="1445" y1="50.30" y2="50.30" stroke="#111" stroke-width="1.2"/>
<text transform="translate(1448,52.90) scale(1.04,1)" font-size="9.8" fill="#000">8.2</text>
<line x1="54.30" x2="54.30" y1="398" y2="407" stroke="#000" stroke-width="1.2"/>
<text transform="translate(53.50,416.8) scale(1,0.88)" font-size="10" text-anchor="middle" fill="#000">1 Jan 2022</text>
<line x1="172.18" x2="172.18" y1="398" y2="407" stroke="#000" stroke-width="1.2"/>
<text transform="translate(171.38,416.8) scale(1,0.88)" font-size="10" text-anchor="middle" fill="#000">1 Feb</text>
<line x1="278.65" x2="278.65" y1="398" y2="407" stroke="#000" stroke-width="1.2"/>
<text transform="translate(277.85,416.8) scale(1,0.88)" font-size="10" text-anchor="middle" fill="#000">1 Mar</text>
<line x1="396.53" x2="396.53" y1="398" y2="407" stroke="#000" stroke-width="1.2"/>
<text transform="translate(395.73,416.8) scale(1,0.88)" font-size="10" text-anchor="middle" fill="#000">1 Apr</text>
<line x1="510.61" x2="510.61" y1="398" y2="407" stroke="#000" stroke-width="1.2"/>
<text transform="translate(509.81,416.8) scale(1,0.88)" font-size="10" text-anchor="middle" fill="#000">1 May</text>
<line x1="628.49" x2="628.49" y1="398" y2="407" stroke="#000" stroke-width="1.2"/>
<text transform="translate(627.69,416.8) scale(1,0.88)" font-size="10" text-anchor="middle" fill="#000">1 Jun</text>
<line x1="742.57" x2="742.57" y1="398" y2="407" stroke="#000" stroke-width="1.2"/>
<text transform="translate(741.77,416.8) scale(1,0.88)" font-size="10" text-anchor="middle" fill="#000">1 Jul</text>
<line x1="860.45" x2="860.45" y1="398" y2="407" stroke="#000" stroke-width="1.2"/>
<text transform="translate(859.65,416.8) scale(1,0.88)" font-size="10" text-anchor="middle" fill="#000">1 Aug</text>
<line x1="978.33" x2="978.33" y1="398" y2="407" stroke="#000" stroke-width="1.2"/>
<text transform="translate(977.53,416.8) scale(1,0.88)" font-size="10" text-anchor="middle" fill="#000">1 Sep</text>
<line x1="1092.41" x2="1092.41" y1="398" y2="407" stroke="#000" stroke-width="1.2"/>
<text transform="translate(1091.61,416.8) scale(1,0.88)" font-size="10" text-anchor="middle" fill="#000">1 Oct</text>
<line x1="1210.29" x2="1210.29" y1="398" y2="407" stroke="#000" stroke-width="1.2"/>
<text transform="translate(1209.49,416.8) scale(1,0.88)" font-size="10" text-anchor="middle" fill="#000">1 Nov</text>
<line x1="1324.37" x2="1324.37" y1="398" y2="407" stroke="#000" stroke-width="1.2"/>
<text transform="translate(1323.57,416.8) scale(1,0.88)" font-size="10" text-anchor="middle" fill="#000">1 Dec</text>
<line x1="1442.25" x2="1442.25" y1="398" y2="407" stroke="#000" stroke-width="1.2"/>
<text transform="translate(1441.45,416.8) scale(1,0.88)" font-size="10" text-anchor="middle" fill="#000">1 Jan 2023</text>
<text x="52" y="29.7" font-size="16.3" font-weight="bold" fill="#000" textLength="569" lengthAdjust="spacingAndGlyphs">Global Seismic Activity Level for 2022 - updated: 20 Jan 2023, 16:00 UTC</text>
<text x="52" y="42.8" font-size="11.5" fill="#000" textLength="101" lengthAdjust="spacingAndGlyphs">worldwide per day</text>
<text transform="translate(43.4,83.50) rotate(-90)" font-size="10.3" text-anchor="middle" fill="#000">extreme</text>
<text transform="translate(43.4,154.50) rotate(-90)" font-size="10.3" text-anchor="middle" fill="#000">very high</text>
<text transform="translate(43.4,225.00) rotate(-90)" font-size="10.3" text-anchor="middle" fill="#000">high</text>
<text transform="translate(43.4,295.25) rotate(-90)" font-size="10.3" text-anchor="middle" fill="#000">moderate</text>
<text transform="translate(43.4,365.75) rotate(-90)" font-size="10.3" text-anchor="middle" fill="#000">low</text>
<text transform="translate(28,225.7) rotate(-90)" font-size="14.2" font-weight="bold" text-anchor="middle" fill="#000" textLength="87.4" lengthAdjust="spacingAndGlyphs">Activity level</text>
<text transform="translate(1468.4,226.4) rotate(90)" font-size="9.7" text-anchor="middle" fill="#000" textLength="98.5" lengthAdjust="spacingAndGlyphs">Combined magnitude</text>
<line x1="1048" x2="1048" y1="91" y2="108.5" stroke="#888" stroke-width="1"/>
<line x1="1014.5" x2="1014.5" y1="110" y2="119.5" stroke="#888" stroke-width="1"/>
<text x="1046.9" y="67.8" font-size="9.6" text-anchor="middle" fill="#000" textLength="232.7" lengthAdjust="spacingAndGlyphs">M7.7 - Mexico: 63 Km Al SUR De COALCOMAN, MICH</text>
<text x="1046.7" y="80" font-size="9.6" text-anchor="middle" fill="#000" textLength="28.4" lengthAdjust="spacingAndGlyphs">19 Sep</text>
<text x="1014.2" y="91.6" font-size="9.6" text-anchor="middle" fill="#000" textLength="195.4" lengthAdjust="spacingAndGlyphs">M7.6 - 68 Km NW of Lae, Papua New Guinea</text>
<text x="1014" y="103.6" font-size="9.6" text-anchor="middle" fill="#000" textLength="28.9" lengthAdjust="spacingAndGlyphs">10 Sep</text>
<text x="51.7" y="438" font-size="10.6" fill="#000" textLength="32.6" lengthAdjust="spacingAndGlyphs">Notes:</text>
<text x="51.7" y="452" font-size="10.6" fill="#000" textLength="366" lengthAdjust="spacingAndGlyphs">Data incomplete for smaller quakes (M&lt;4), near complete from M4.</text>
<text x="51.7" y="467.5" font-size="10.6" fill="#000" textLength="357" lengthAdjust="spacingAndGlyphs">Quake data: www.volcanodiscovery.com/earthquakes/today.html</text>
<polygon points="1286.7,484.7 1340.7,484.7 1320,468.7 1308.7,468.7" fill="#000"/>
<text x="1305.2" y="466.9" font-size="23.2" font-weight="bold" style="fill:#000;stroke:#000;stroke-width:0.9px" textLength="117.6" lengthAdjust="spacingAndGlyphs">VOLCANO</text>
<text x="1343" y="484.6" font-size="21" font-weight="bold" style="fill:#c41e2a;stroke:#c41e2a;stroke-width:0.3px" textLength="108.8" lengthAdjust="spacingAndGlyphs">DISCOVERY</text>
</svg>
</body></html>
